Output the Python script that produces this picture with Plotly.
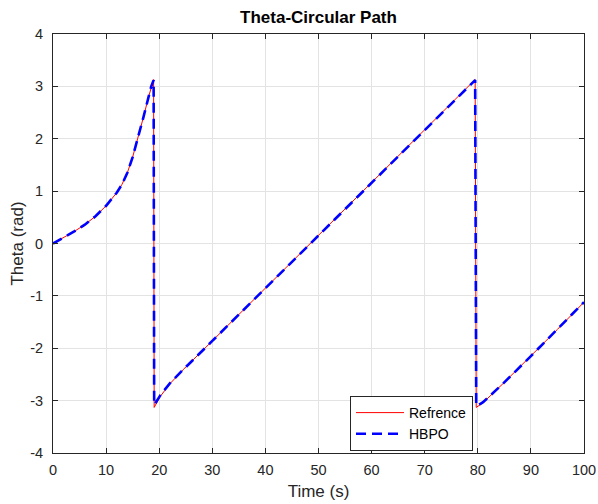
import plotly.graph_objects as go

# ---- data ----
ref_t = [0, 2, 4, 6, 8, 10, 11, 12, 13, 14, 15, 16, 17, 18, 18.5, 18.95,
         19.05, 19.4, 20.2, 22.0, 24.5, 30, 40, 50, 60, 70, 79.5,
         79.7, 80.2, 81.0, 84.8, 90, 95, 100]
ref_theta = [0, 0.11, 0.23, 0.36, 0.52, 0.72, 0.84, 0.97, 1.13, 1.35, 1.65, 2.0, 2.4, 2.8, 3.0, 3.13,
             -3.13, -3.06, -2.92, -2.68, -2.41, -1.86, -0.85, 0.16, 1.16, 2.17, 3.13,
             -3.13, -3.1, -3.04, -2.67, -2.15, -1.64, -1.12]

hbpo_t = [0, 2, 4, 6, 8, 10, 11, 12, 13, 14, 15, 16, 17, 18, 18.5, 18.95,
          19.05, 19.4, 20.2, 22.0, 24.5, 30, 40, 50, 60, 70, 79.5,
          79.7, 80.2, 81.0, 84.8, 90, 95, 100]
hbpo_theta = [0, 0.11, 0.23, 0.36, 0.52, 0.72, 0.84, 0.97, 1.13, 1.35, 1.65, 2.0, 2.4, 2.8, 3.0, 3.12,
              -3.08, -3.03, -2.9, -2.67, -2.41, -1.86, -0.85, 0.16, 1.16, 2.17, 3.12,
              -3.1, -3.08, -3.03, -2.67, -2.15, -1.64, -1.12]

x_ticks = [0, 10, 20, 30, 40, 50, 60, 70, 80, 90, 100]
y_ticks = [-4, -3, -2, -1, 0, 1, 2, 3, 4]

FONT = "Liberation Sans, Arial, sans-serif"
AX = "#262626"
GRID = "#e3e3e3"

fig = go.Figure()
fig.add_trace(go.Scatter(x=ref_t, y=ref_theta, mode="lines", name="Refrence",
                         line=dict(color="#ff0000", width=1)))
fig.add_trace(go.Scatter(x=hbpo_t, y=hbpo_theta, mode="lines", name="HBPO",
                         line=dict(color="#0000ff", width=2.6, dash="10px,6px")))

axis_common = dict(
    showline=True, linecolor=AX, linewidth=1, mirror="ticks",
    ticks="inside", ticklen=5, tickcolor=AX, tickwidth=1,
    showgrid=True, gridcolor=GRID, gridwidth=1, zeroline=False,
    tickfont=dict(family=FONT, size=14.5, color=AX),
    automargin=False,
)

fig.update_layout(
    width=598, height=504,
    margin=dict(l=53, r=14, t=34, b=51),
    paper_bgcolor="white", plot_bgcolor="white",
    title=dict(text="<b>Theta-Circular Path</b>", x=(53 + 584) / 2 / 598, xanchor="center",
               y=1 - 17 / 504, yanchor="middle",
               font=dict(family=FONT, size=17, color="black")),
    xaxis=dict(range=[0, 100], tickvals=x_ticks, ticktext=[str(v) for v in x_ticks],
               ticklabelstandoff=4,
               title=dict(text="Time (s)", font=dict(family=FONT, size=17, color=AX), standoff=7),
               **axis_common),
    yaxis=dict(range=[-4, 4], tickvals=y_ticks, ticktext=[str(v) for v in y_ticks],
               ticklabelstandoff=6,
               title=dict(text="Theta (rad)", font=dict(family=FONT, size=17, color=AX), standoff=2),
               **axis_common),
    legend=dict(x=(350 - 53) / 531, y=(453 - 451) / 419, xanchor="left", yanchor="bottom",
                bgcolor="white", bordercolor=AX, borderwidth=1,
                font=dict(family=FONT, size=14, color="black"),
                tracegroupgap=0, itemwidth=48),
    showlegend=True,
)

fig.write_html("out.html")
